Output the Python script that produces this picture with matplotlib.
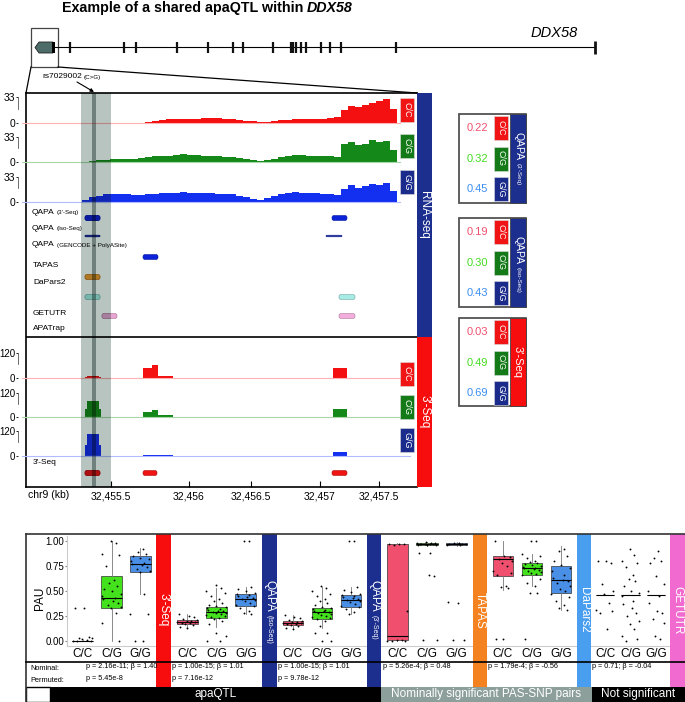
import numpy as np
import matplotlib
matplotlib.use("Agg")
import matplotlib.pyplot as plt
from matplotlib.patches import Rectangle, FancyBboxPatch, Polygon
from matplotlib.colors import to_rgb
from matplotlib import transforms

plt.rcParams['font.family'] = ['Liberation Sans', 'DejaVu Sans']

W, H = 685, 702

# ---------------- data ----------------
genotypes = ['C/C', 'C/G', 'G/G']

# gene model (screen positions along the DDX58 locus)
exon_x = [70, 124, 136, 177, 208, 233, 243, 273, 291, 293, 296, 301, 306,
          321, 330, 341, 396]
gene_start, gene_end = 55, 595
snp_x = 94
hl_span = (81, 111)

# RNA-seq coverage, bins of 7 px along the zoomed region
rna_edges = np.arange(82, 398, 7)
rna_cc = [0.2, 0.2, 0.2, 0.2, 0.2, 0.2, 0.2, 0.3,
          0.5, 1.5, 3, 4, 4.5, 5, 5, 5.5, 5.5, 6, 6, 6,
          5.5, 5, 4, 3, 2, 1, 1.5, 3, 3.5, 4,
          4.5, 5, 5, 5.5, 5.5, 6, 8,
          17, 22, 20, 23, 25, 28, 30, 18]
rna_cg = [0.5, 1.5, 2.5, 3, 3.5, 4, 4, 4.5,
          5, 6, 8, 8.5, 8.5, 9, 10, 9.5, 9, 8.5, 8, 7.5,
          7, 6, 5, 4, 2.5, 1.5, 2, 4, 6, 8,
          9, 9, 8.5, 8.5, 8, 7.5, 7,
          24, 26, 22, 24, 29, 27, 28, 16]
rna_gg = [2, 7, 8, 10, 10.5, 11, 10, 9,
          9.5, 10, 11, 12, 12, 12.5, 13, 12.5, 12, 12, 11.5, 11,
          10.5, 10, 8, 7, 4, 3, 5, 8, 10, 12,
          13, 12.5, 12, 11.5, 11, 10, 9,
          17, 22, 19, 21, 24, 22, 25, 14]

# 3'-Seq coverage
seq_edges = [48, 70, 78, 85, 87, 99, 101, 122, 143, 152, 158, 173, 310, 325,
             333, 347, 398, 410]
seq_cc = [0, 0, 0, 5, 11, 5, 0, 0, 47, 62, 12, 0, 0, 1, 47, 0, 0]
seq_cg = [2, 0, 0, 40, 78, 40, 0, 0, 26, 34, 8, 0, 0, 2, 39, 0, 0]
seq_gg = [2, 0, 2, 55, 107, 55, 2, 0, 6, 6, 6, 0, 2, 2, 20, 0, 1]

tick_pos = [111, 189, 251, 320, 379]
tick_lab = ['32,455.5', '32,456', '32,456.5', '32,457', '32,457.5']

# annotated PAS features: (start, end, row y, height, colour)
features = [
    (85, 100, 218, 5, '#0b22d8'), (332, 347, 218, 5, '#0b22d8'),
    (85, 100, 236, 1.6, '#1b2fb0'), (326, 342, 236, 1.6, '#1b2fb0'),
    (143, 158, 257, 5, '#0b22d8'),
    (85, 100, 277, 5, '#f4992f'),
    (85, 100, 297, 5, '#a6ece5'), (339, 355, 297, 5, '#a6ece5'),
    (102, 117, 316, 5, '#e7a4d2'), (339, 355, 316, 5, '#f4aedc'),
    (85, 100, 473, 5, '#f01515'), (143, 157, 473, 5, '#f01515'),
    (332, 347, 473, 5, '#f01515'),
]
track_labels = [("QAPA", "(3'-Seq)", 212), ("QAPA", "(Iso-Seq)", 228),
                ("QAPA", "(GENCODE + PolyASite)", 245), ("TAPAS", "", 266),
                ("DaPars2", "", 283), ("GETUTR", "", 314), ("APATrap", "", 329),
                ("3'-Seq", "", 463)]

# mean PAU per genotype
mean_qapa_3seq = [0.22, 0.32, 0.45]
mean_qapa_iso = [0.19, 0.30, 0.43]
mean_3seq = [0.03, 0.49, 0.69]

# PAU per sample (C/C, C/G, G/G) and box stats (whislo, q1, med, q3, whishi)
pau_3seq = [[0.33, 0.33, 0.04, 0.03, 0.03, 0.02, 0.01, 0.0, 0.0, 0.0],
            [1.0, 0.98, 0.87, 0.86, 0.75, 0.61, 0.58, 0.55, 0.52, 0.5, 0.47,
             0.45, 0.43, 0.42, 0.4, 0.38, 0.36, 0.34, 0.33, 0.28, 0.18, 0.0],
            [0.92, 0.89, 0.87, 0.85, 0.83, 0.82, 0.8, 0.78, 0.77, 0.76, 0.74,
             0.72, 0.7, 0.69, 0.47, 0.27, 0.27, 0.0, 0.0]]
box_3seq = [(0, 0, 0, 0.005, 0.01), (0.0, 0.33, 0.43, 0.65, 1.0),
            (0.47, 0.69, 0.77, 0.85, 0.93)]

pau_qapa_iso = [[0.27, 0.25, 0.24, 0.22, 0.21, 0.2, 0.2, 0.19, 0.19, 0.18, 0.18,
                 0.17, 0.16, 0.14, 0.13],
                [0.56, 0.53, 0.5, 0.48, 0.45, 0.42, 0.4, 0.38, 0.36, 0.35, 0.34,
                 0.33, 0.32, 0.31, 0.3, 0.3, 0.29, 0.28, 0.28, 0.27, 0.26, 0.25,
                 0.24, 0.23, 0.22, 0.2, 0.17, 0.08, 0.05, 0.0, 0.0],
                [1.0, 1.0, 0.54, 0.52, 0.5, 0.48, 0.47, 0.46, 0.45, 0.44, 0.43,
                 0.42, 0.41, 0.4, 0.38, 0.36, 0.35, 0.33, 0.3, 0.28, 0.27]]
box_qapa_iso = [(0.13, 0.17, 0.19, 0.21, 0.27), (0.14, 0.23, 0.29, 0.34, 0.53),
                (0.27, 0.35, 0.42, 0.47, 0.54)]

pau_qapa_3seq = [[0.26, 0.24, 0.23, 0.21, 0.2, 0.19, 0.19, 0.18, 0.18, 0.17,
                  0.17, 0.16, 0.15, 0.13, 0.12],
                 [0.55, 0.53, 0.5, 0.47, 0.45, 0.42, 0.4, 0.38, 0.36, 0.34,
                  0.33, 0.32, 0.31, 0.3, 0.3, 0.29, 0.28, 0.27, 0.26, 0.25,
                  0.24, 0.23, 0.22, 0.2, 0.15, 0.08, 0.08, 0.0, 0.0],
                 [1.0, 1.0, 0.54, 0.51, 0.49, 0.47, 0.46, 0.45, 0.44, 0.43,
                  0.42, 0.41, 0.4, 0.39, 0.37, 0.35, 0.34, 0.32, 0.29, 0.27]]
box_qapa_3seq = [(0.12, 0.16, 0.18, 0.2, 0.26), (0.13, 0.22, 0.29, 0.33, 0.54),
                 (0.27, 0.34, 0.41, 0.46, 0.54)]

pau_tapas = [[0.97, 0.97, 0.97, 0.96, 0.3, 0.01, 0.01, 0.0, 0.0, 0.0],
             [0.99, 0.98, 0.98, 0.98, 0.97, 0.97, 0.97, 0.97, 0.97, 0.96, 0.96,
              0.96, 0.88, 0.88, 0.66, 0.65, 0.01, 0.01],
             [0.98, 0.98, 0.97, 0.97, 0.97, 0.97, 0.96, 0.96, 0.39, 0.38, 0.01,
              0.01]]
box_tapas = [(0.0, 0.01, 0.05, 0.97, 0.98), (0.95, 0.965, 0.975, 0.98, 0.99),
             (0.95, 0.965, 0.975, 0.98, 0.99)]

pau_dapars2 = [[1.0, 0.85, 0.84, 0.82, 0.8, 0.78, 0.75, 0.7, 0.68, 0.66, 0.55,
                0.54, 0.53, 0.02, 0.02],
               [1.0, 1.0, 0.87, 0.85, 0.83, 0.8, 0.79, 0.78, 0.77, 0.76, 0.75,
                0.74, 0.73, 0.73, 0.72, 0.71, 0.7, 0.69, 0.68, 0.67, 0.66, 0.62,
                0.58, 0.55, 0.48, 0.48, 0.02],
               [0.92, 0.9, 0.85, 0.8, 0.76, 0.73, 0.7, 0.66, 0.63, 0.61, 0.6,
                0.58, 0.55, 0.52, 0.5, 0.47, 0.44, 0.4, 0.36, 0.33, 0.31]]
box_dapars2 = [(0.51, 0.65, 0.82, 0.85, 1.0), (0.55, 0.66, 0.73, 0.78, 0.87),
               (0.31, 0.48, 0.61, 0.75, 0.95)]

pau_getutr = [[0.8, 0.8, 0.78, 0.57, 0.5, 0.47, 0.38, 0.31, 0.3, 0.28, 0.12],
              [0.92, 0.86, 0.8, 0.78, 0.74, 0.66, 0.62, 0.6, 0.55, 0.5, 0.48,
               0.45, 0.4, 0.37, 0.33, 0.28, 0.25, 0.2, 0.17, 0.12, 0.05, 0.02,
               0.0],
              [0.9, 0.83, 0.8, 0.78, 0.65, 0.57, 0.5, 0.45, 0.38, 0.3, 0.28,
               0.22, 0.18, 0.05, 0.02]]
box_getutr = [(0.465, 0.465, 0.465, 0.465, 0.465)] * 3

methods = ["3'-Seq", "QAPA|(Iso-Seq)", "QAPA|(3'-Seq)", "TAPAS", "DaPars2", "GETUTR"]
nominal = ["p = 2.16e-11; β = 1.40", "p = 1.00e-15; β = 1.01",
           "p = 1.00e-15; β = 1.01", "p = 5.26e-4; β = 0.48",
           "p = 1.79e-4; β = -0.56", "p = 0.71; β = -0.04"]
permuted = ["p = 5.45e-8", "p = 7.16e-12", "p = 9.78e-12", "", "", ""]
groups = ["apaQTL", "Nominally significant PAS-SNP pairs", "Not significant"]

# ---------------- style ----------------
RED, NAVY = '#f70d0d', '#1c2e8e'
TRK = {'C/C': '#f41010', 'C/G': '#14891a', 'G/G': '#1330f0'}
BASE = {'C/C': '#ffb0b0', 'C/G': '#a8d8a8', 'G/G': '#b0bcff'}
TAG = {'C/C': '#f01414', 'C/G': '#137a17', 'G/G': '#1b2b8c'}
BOXC = {'C/C': '#f0506e', 'C/G': '#43e21c', 'G/G': '#4a8fe6'}
NUMC = {'C/C': '#f0506e', 'C/G': '#44dd22', 'G/G': '#3a8ef0'}
METH_C = [RED, NAVY, NAVY, '#f58220', '#4a9ef0', '#f06ad0']
GROUP_C = ['black', '#8c9f9b', 'black']
HL_RGB = np.array([183, 196, 192]) / 255
CTR_RGB = np.array([112, 128, 124]) / 255
JIT = [-0.27, 0.05, 0.22, -0.12, 0.31, -0.02, 0.14, -0.33, 0.26, -0.18, 0.09,
       -0.07, 0.18, -0.24, 0.0, 0.3, -0.3, 0.11]

fig = plt.figure(figsize=(W / 100, H / 100), dpi=100)


def frac(x0, y0, x1, y1):
    return [x0 / W, 1 - y1 / H, (x1 - x0) / W, (y1 - y0) / H]


def mult(c, f):
    return tuple(np.array(to_rgb(c)) * f)


def shaded(ax, make, color):
    # draw an artist, plus darker copies where the SNP highlight lies on it
    make(color)
    tr = transforms.blended_transform_factory(ax.transData, ax.transAxes)
    for x0, x1, f in [(hl_span[0], hl_span[1], HL_RGB),
                      (snp_x - 2, snp_x + 2, CTR_RGB)]:
        art = make(mult(color, f))
        art.set_clip_on(True)
        art.set_clip_path(Rectangle((x0, -0.2), x1 - x0, 1.4, transform=tr))


def label2(ax, x, y, big, small, fs1, fs2, rot=0, color='black', **kw):
    t = ax.text(x, y, big, fontsize=fs1, rotation=rot, color=color, **kw)
    if small:
        if rot == 0:
            ax.annotate(small, xy=(1, 0), xycoords=t, xytext=(1.5, 0.3),
                        textcoords='offset points', fontsize=fs2, color=color,
                        va='bottom', ha='left')
        else:
            ax.annotate(small, xy=(0.5, 0), xycoords=t, xytext=(-0.6, -2.5),
                        textcoords='offset points', fontsize=fs2, color=color,
                        va='top', ha='center', rotation=rot)
    return t


# ---------------- track panel ----------------
pan = fig.add_axes(frac(26, 93, 417, 487))
pan.set_xlim(26, 417)
pan.set_ylim(487, 93)
pan.axvspan(*hl_span, color=HL_RGB, lw=0, zorder=0.5)
pan.axvspan(snp_x - 2, snp_x + 2, color=CTR_RGB, lw=0, zorder=0.6)
pan.axhline(337, color='black', lw=1.2)
for s in ['top', 'left', 'bottom']:
    pan.spines[s].set_linewidth(1.2)
pan.spines['right'].set_visible(False)
pan.set_yticks([])
pan.set_xticks(tick_pos)
pan.set_xticklabels(tick_lab)
pan.tick_params(axis='x', direction='in', length=4, labelsize=7.5, pad=3)

for x0, x1, yc, h, c in features:
    shaded(pan, lambda col, x0=x0, x1=x1, yc=yc, h=h: pan.add_patch(
        FancyBboxPatch((x0, yc - h / 2), x1 - x0, h,
                       boxstyle="round,pad=0,rounding_size=%g" % min(2, h / 2),
                       fc=col, ec=mult(col, 0.7), lw=0.4, zorder=2)), c)

for big, small, y in track_labels:
    label2(pan, 32 if big == 'QAPA' else 33, y, big, small, 6, 4.5,
           va='center', ha='left', zorder=4)


def track(y_top, y_zero, vals, edges, g, top, x1, fs):
    ax = fig.add_axes(frac(22, y_top, 412, y_zero))
    ax.set_xlim(22, 412)
    ax.set_ylim(0, top)
    ax.patch.set_alpha(0)
    shaded(ax, lambda col: ax.plot([22, x1], [0, 0], color=col, lw=0.8,
                                   clip_on=False)[0], BASE[g])
    shaded(ax, lambda col: ax.stairs(vals, edges, fill=True, color=col, lw=0),
           TRK[g])
    for s in ['top', 'right', 'bottom']:
        ax.spines[s].set_visible(False)
    ax.spines['left'].set_position(('outward', 3))
    ax.spines['left'].set_bounds(top * 0.55, top)
    ax.spines['left'].set_linewidth(0.6)
    ax.spines['left'].set_color('#555555')
    ax.set_xticks([])
    ax.set_yticks([0, top])
    ax.set_yticklabels(['0', str(top)])
    ax.tick_params(axis='y', length=1.5, width=0.6, pad=0.5, labelsize=fs)
    return ax


for (vals, yt, yz), g in zip([(rna_cc, 97, 123), (rna_cg, 137, 162),
                              (rna_gg, 177, 202)], genotypes):
    track(yt, yz, vals, rna_edges, g, 33, 400, 7.5)
for (vals, yt, yz), g in zip([(seq_cc, 353, 378), (seq_cg, 393, 417),
                              (seq_gg, 431, 456)], genotypes):
    track(yt, yz, vals, seq_edges, g, 120, 410, 7)

# ---------------- bottom boxplots ----------------
bp_spans = [(67, 156), (171, 262), (277, 367), (381, 473), (487, 577), (591, 670)]
all_pau = [pau_3seq, pau_qapa_iso, pau_qapa_3seq, pau_tapas, pau_dapars2, pau_getutr]
all_box = [box_3seq, box_qapa_iso, box_qapa_3seq, box_tapas, box_dapars2, box_getutr]
for k, ((x0, x1), pau, bx) in enumerate(zip(bp_spans, all_pau, all_box)):
    ax = fig.add_axes(frac(x0, 536, x1, 646))
    ax.set_xlim(0.45, 3.55)
    ax.set_ylim(-0.05, 1.05)
    stats = [dict(whislo=b[0], q1=b[1], med=b[2], q3=b[3], whishi=b[4], fliers=[])
             for b in bx]
    art = ax.bxp(stats, positions=[1, 2, 3], widths=0.72, patch_artist=True,
                 showfliers=False, showcaps=False,
                 boxprops=dict(lw=0.5, edgecolor='#333333'),
                 whiskerprops=dict(lw=0.6, color='#777777'),
                 medianprops=dict(color='black', lw=0.8))
    for patch, g in zip(art['boxes'], genotypes):
        patch.set_facecolor(BOXC[g])
    for i, vals in enumerate(pau):
        xs = [i + 1 + 1.05 * JIT[(j + 5 * i) % len(JIT)] for j in range(len(vals))]
        ax.scatter(xs, vals, s=1.8, c='black', lw=0, zorder=4)
    for s in ['top', 'right']:
        ax.spines[s].set_visible(False)
    ax.spines['bottom'].set_color('#cccccc')
    ax.spines['left'].set_color('#cccccc')
    ax.set_xticks([1, 2, 3])
    ax.set_xticklabels(genotypes)
    ax.tick_params(axis='x', length=0, pad=1.5, labelsize=8.5)
    if k == 0:
        ax.set_yticks([0, 0.25, 0.5, 0.75, 1.0])
        ax.set_yticklabels(['0.00', '0.25', '0.50', '0.75', '1.00'])
        ax.tick_params(axis='y', length=1.5, pad=0.5, labelsize=7, color='#888888')
    else:
        ax.spines['left'].set_visible(False)
        ax.set_yticks([])

# ---------------- canvas overlay ----------------
cv = fig.add_axes([0, 0, 1, 1])
cv.set_xlim(0, W)
cv.set_ylim(H, 0)
cv.axis('off')
cv.patch.set_alpha(0)
cv.set_zorder(5)

t = cv.text(62, 8, "Example of a shared apaQTL within", fontsize=10.3,
            fontweight='bold', va='center', ha='left')
cv.annotate("DDX58", xy=(1, 0), xycoords=t, xytext=(2.5, 0),
            textcoords='offset points', fontsize=10.3, fontweight='bold',
            fontstyle='italic', va='bottom', ha='left')

# gene model
cv.plot([gene_start, gene_end], [47, 47], color='black', lw=0.8)
cv.vlines(exon_x, 41.5, 53, color='#111111', lw=1.6)
cv.vlines([gene_end], 41, 54, color='#111111', lw=2)
cv.add_patch(Polygon([(35, 47.5), (39, 42), (53, 42), (53, 53), (39, 53)],
                     closed=True, fc='#4d6b68', ec='#222222', lw=0.6))
cv.add_patch(Rectangle((52, 42), 3, 11, fc='black', lw=0))
cv.add_patch(Rectangle((31, 28), 27, 39, fill=False, ec='#444444', lw=0.9))
cv.text(578, 33, 'DDX58', fontsize=10.5, fontstyle='italic', ha='right', va='center')
cv.plot([31, 26], [67, 93], color='black', lw=0.9)
cv.plot([58, 417], [67, 93], color='black', lw=0.9)
label2(cv, 42, 77, "rs7029002", "(C>G)", 6, 4.5, va='center', ha='left')
cv.annotate('', xy=(94, 92), xytext=(77, 82),
            arrowprops=dict(arrowstyle='-|>', lw=0.8, color='black',
                            mutation_scale=5, shrinkA=0, shrinkB=0))


def tag(x0, y0, w, h, g, fs=6.5):
    cv.add_patch(Rectangle((x0, y0), w, h, fc=TAG[g], ec='#dddddd', lw=0.4))
    cv.text(x0 + w / 2, y0 + h / 2, g, color='white', fontsize=fs,
            rotation=-90, ha='center', va='center')


# side bars of the track panel
cv.add_patch(Rectangle((417, 93), 15, 244, fc=NAVY, lw=0))
cv.text(424.5, 215, 'RNA-seq', color='white', fontsize=8.5, rotation=-90,
        ha='center', va='center')
cv.add_patch(Rectangle((417, 337), 15, 150, fc=RED, lw=0))
cv.text(424.5, 412, "3'-Seq", color='white', fontsize=8.5, rotation=-90,
        ha='center', va='center')
for y0, g in zip([98, 134, 170], genotypes):
    tag(400, y0, 14, 24, g)
for y0, g in zip([362, 395, 428], genotypes):
    tag(400, y0, 14, 24, g)
cv.text(28, 495, 'chr9 (kb)', fontsize=7.5, ha='left', va='center')

# summary boxes on the right
summary = [("QAPA", "(3'-Seq)", NAVY, mean_qapa_3seq, 114, 203),
           ("QAPA", "(Iso-Seq)", NAVY, mean_qapa_iso, 218, 307),
           ("3'-Seq", "", RED, mean_3seq, 318, 406)]
for big, small, col, means, y0, y1 in summary:
    cv.add_patch(Rectangle((459, y0), 67, y1 - y0, fc='white', ec='#444444', lw=1.2))
    cv.add_patch(Rectangle((510, y0), 16, y1 - y0, fc=col, ec='#444444', lw=0.6))
    if small:
        label2(cv, 518.5, y0 + 18, big, small, 7.5, 4.5, rot=-90,
               color='white', ha='center', va='top')
    else:
        cv.text(518, (y0 + y1) / 2, big, color='white', fontsize=8, rotation=-90,
                ha='center', va='center')
    for i, (g, m) in enumerate(zip(genotypes, means)):
        ty = y0 + 2 + i * 30.5
        tag(494, ty, 14, 24, g)
        cv.text(477, ty + 12, '%.2f' % m, color=NUMC[g], fontsize=8,
                ha='center', va='center')

# bottom frame
cv.plot([26, 685], [534, 534], color='#333333', lw=1.2)
cv.plot([26, 26], [534, 702], color='#333333', lw=1.2)
cv.plot([26, 685], [662, 662], color='black', lw=1.2)
cv.text(40, 598, 'PAU', rotation=90, fontsize=8.5, ha='center', va='center')
cv.text(30, 669, 'Nominal:', fontsize=5.3, ha='left', va='center')
cv.text(30, 681, 'Permuted:', fontsize=5.3, ha='left', va='center')
stat_x = [86, 172, 278, 383, 488, 592]
for sx, nom, per in zip(stat_x, nominal, permuted):
    cv.text(sx, 666, nom, fontsize=5.2, ha='left', va='center')
    if per:
        cv.text(sx, 678, per, fontsize=5.2, ha='left', va='center')

bar_spans = [(156, 171), (262, 277), (367, 381), (473, 487), (577, 591), (670, 685)]
for (x0, x1), name, col in zip(bar_spans, methods, METH_C):
    cv.add_patch(Rectangle((x0, 534), x1 - x0, 153, fc=col, lw=0))
    xc = (x0 + x1) / 2
    if '|' in name:
        big, small = name.split('|')
        label2(cv, xc + 0.5, 580, big, small, 8.5, 5, rot=-90, color='white',
               ha='center', va='top')
    else:
        cv.text(xc, 610, name, color='white', fontsize=8.5, rotation=-90,
                ha='center', va='center')

# category strip
cv.add_patch(Rectangle((26, 687), 24, 15, fc='white', ec='black', lw=1))
strip_spans = [(50, 381), (381, 592), (592, 685)]
for (x0, x1), name, col in zip(strip_spans, groups, GROUP_C):
    cv.add_patch(Rectangle((x0, 687), x1 - x0, 15, fc=col, lw=0))
    cv.text((x0 + x1) / 2, 694.5, name, color='white', fontsize=8.5,
            ha='center', va='center')

fig.savefig('out.png', dpi=100)
